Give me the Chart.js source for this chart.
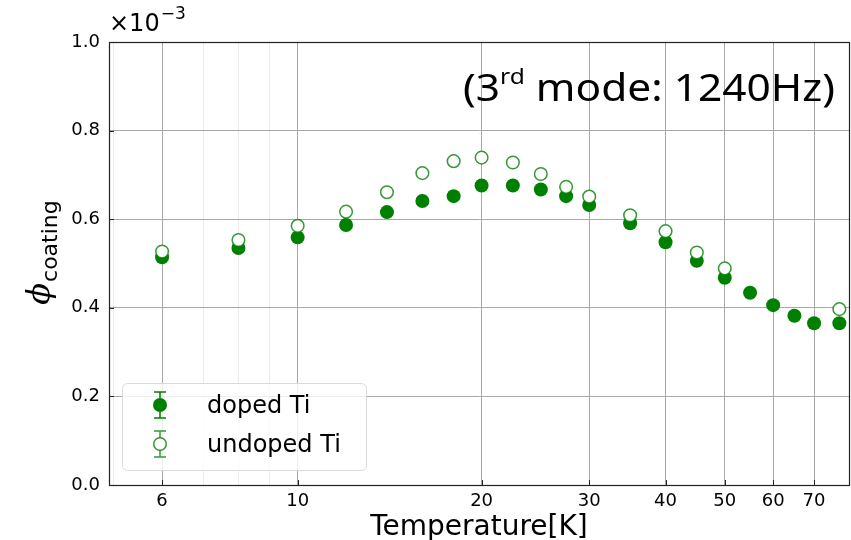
<!DOCTYPE html>
<html>
<head>
<meta charset="utf-8">
<script src="https://cdn.jsdelivr.net/npm/chart.js@4"></script>
<style>
  html, body { margin: 0; padding: 0; background: #fff; }
  #wrap { width: 851px; height: 540px; }
</style>
</head>
<body>
<div id="wrap"><canvas id="chart" width="851" height="540"></canvas></div>
<script>
// temperatures [K] and loss angle (x1e-3)
const dopedTemps = [6, 8, 10, 12, 14, 16, 18, 20, 22.5, 25, 27.5, 30, 35, 40, 45, 50, 55, 60, 65, 70, 77];
const dopedPhi = [0.514, 0.535, 0.559, 0.587, 0.616, 0.641, 0.652, 0.676, 0.676, 0.667, 0.652, 0.632, 0.591, 0.548, 0.506, 0.468, 0.434, 0.406, 0.382, 0.365, 0.365];

const undopedTemps = [6, 8, 10, 12, 14, 16, 18, 20, 22.5, 25, 27.5, 30, 35, 40, 45, 50, 77];
const undopedPhi = [0.527, 0.553, 0.585, 0.617, 0.661, 0.704, 0.731, 0.739, 0.728, 0.702, 0.673, 0.651, 0.609, 0.573, 0.525, 0.489, 0.397];

const xMajorTicks = [6, 10, 20, 30, 40, 50, 60, 70];
const xMinorTicks = [5, 7, 8, 9];
const yTicks = [0, 0.2, 0.4, 0.6, 0.8, 1.0];

const green = "#008000";
const openGreen = "rgba(0,128,0,0.8)";
const tickFont = { family: "DejaVu Sans", size: 18 };

const toPoints = (xs, ys) => xs.map((x, i) => ({ x: x, y: ys[i] }));

// texts, legend, frame and inward ticks
const extras = {
	id: "extras",
	afterDraw(chart) {
		const ctx = chart.ctx;
		const area = chart.chartArea;
		const xs = chart.scales.x;
		const ys = chart.scales.y;
		ctx.save();

		// inward ticks
		ctx.strokeStyle = "#222";
		ctx.lineWidth = 1;
		yTicks.forEach((v) => {
			const y = Math.round(ys.getPixelForValue(v)) + 0.5;
			ctx.beginPath();
			ctx.moveTo(area.left, y);
			ctx.lineTo(area.left + 5, y);
			ctx.stroke();
		});
		xMajorTicks.forEach((v) => {
			const x = Math.round(xs.getPixelForValue(v)) + 0.5;
			ctx.beginPath();
			ctx.moveTo(x, area.bottom);
			ctx.lineTo(x, area.bottom - 5);
			ctx.stroke();
		});

		// frame
		ctx.strokeStyle = "#222";
		ctx.lineWidth = 1.2;
		ctx.strokeRect(area.left + 0.5, area.top + 0.5, area.right - area.left - 1, area.bottom - area.top);

		// x10^-3
		ctx.fillStyle = "#000";
		ctx.textBaseline = "alphabetic";
		ctx.textAlign = "left";
		ctx.font = "24px 'DejaVu Sans'";
		ctx.fillText("\u00d710", 109, 31);
		const w10 = ctx.measureText("\u00d710").width;
		ctx.font = "17px 'DejaVu Sans'";
		ctx.fillText("\u22123", 109 + w10 + 1, 19);

		// annotation (3rd mode: 1240Hz), squeezed to the reference width
		ctx.save();
		const big = "38px 'Noto Sans'";
		const sup = "22px 'Noto Sans'";
		ctx.font = big;
		const wA = ctx.measureText("(3").width;
		const wC = ctx.measureText(" mode: 1240Hz)").width;
		ctx.font = sup;
		const wB = ctx.measureText("rd").width;
		const total = wA + wB + wC;
		const sx = 372 / total;
		ctx.translate(463, 101);
		ctx.scale(sx, 1);
		ctx.font = big;
		ctx.fillText("(3", 0, 0);
		ctx.font = sup;
		ctx.fillText("rd", wA, -17);
		ctx.font = big;
		ctx.fillText(" mode: 1240Hz)", wA + wB, 0);
		ctx.restore();

		// x axis title
		ctx.font = "28px 'DejaVu Sans'";
		ctx.textAlign = "center";
		ctx.fillText("Temperature[K]", 479, 535);

		// y axis title: phi_coating
		ctx.save();
		ctx.translate(49, 253);
		ctx.rotate(-Math.PI / 2);
		ctx.textAlign = "left";
		ctx.font = "italic 32px 'DejaVu Serif'";
		const wPhi = ctx.measureText("\u03d5").width;
		ctx.font = "22px 'DejaVu Sans'";
		const wSub = ctx.measureText("coating").width;
		const start = -(wPhi + wSub) / 2;
		ctx.font = "italic 32px 'DejaVu Serif'";
		ctx.fillText("\u03d5", start, 0);
		ctx.font = "22px 'DejaVu Sans'";
		ctx.fillText("coating", start + wPhi + 1, 8);
		ctx.restore();

		// legend
		const lx = 122.5, ly = 383.5, lw = 244, lh = 87;
		ctx.beginPath();
		ctx.roundRect(lx, ly, lw, lh, 5);
		ctx.fillStyle = "rgba(255,255,255,0.8)";
		ctx.fill();
		ctx.strokeStyle = "#d9d9d9";
		ctx.lineWidth = 1;
		ctx.stroke();

		const drawEntry = (cy, filled, label) => {
			const cx = 160;
			ctx.strokeStyle = filled ? green : openGreen;
			ctx.lineWidth = 1.5;
			ctx.beginPath();
			ctx.moveTo(cx, cy - 13);
			ctx.lineTo(cx, cy + 13);
			ctx.moveTo(cx - 6, cy - 13);
			ctx.lineTo(cx + 6, cy - 13);
			ctx.moveTo(cx - 6, cy + 13);
			ctx.lineTo(cx + 6, cy + 13);
			ctx.stroke();
			ctx.beginPath();
			ctx.arc(cx, cy, filled ? 7 : 6.3, 0, Math.PI * 2);
			if (filled) {
				ctx.fillStyle = green;
				ctx.fill();
			} else {
				ctx.fillStyle = "#fff";
				ctx.fill();
				ctx.stroke();
			}
			ctx.fillStyle = "#000";
			ctx.font = "24px 'DejaVu Sans'";
			ctx.textAlign = "left";
			ctx.fillText(label, 207, cy + 8);
		};
		drawEntry(405, true, "doped Ti");
		drawEntry(444, false, "undoped Ti");

		ctx.restore();
	},
};

new Chart(document.getElementById("chart"), {
	type: "scatter",
	data: {
		datasets: [
			{
				label: "undoped Ti",
				data: toPoints(undopedTemps, undopedPhi),
				pointRadius: 6.3,
				pointBorderWidth: 1.5,
				pointBackgroundColor: "#fff",
				pointBorderColor: openGreen,
				order: 0,
				clip: false,
			},
			{
				label: "doped Ti",
				data: toPoints(dopedTemps, dopedPhi),
				pointRadius: 7,
				pointBorderWidth: 0,
				pointBackgroundColor: green,
				pointBorderColor: green,
				order: 1,
				clip: false,
			},
		],
	},
	options: {
		responsive: false,
		animation: false,
		layout: { autoPadding: false, padding: { top: 42, right: 1, left: 0, bottom: 0 } },
		plugins: {
			legend: { display: false },
			tooltip: { enabled: false },
		},
		scales: {
			x: {
				type: "logarithmic",
				min: 4.912,
				max: 80.15,
				bounds: "data",
				afterBuildTicks: (scale) => {
					scale.ticks = xMinorTicks.concat(xMajorTicks).sort((a, b) => a - b).map((v) => ({ value: v }));
				},
				afterFit: (scale) => {
					scale.height = 55;
					scale.paddingLeft = 0;
					scale.paddingRight = 0;
				},
				grid: {
					drawTicks: false,
					color: (c) => (c.tick && xMajorTicks.includes(c.tick.value) ? "#a8a8a8" : "#ececec"),
					lineWidth: 1,
				},
				border: { display: false },
				ticks: {
					autoSkip: false,
					maxRotation: 0,
					padding: 6,
					color: "#000",
					font: tickFont,
					callback: (v) => (xMajorTicks.includes(v) ? String(v) : ""),
				},
			},
			y: {
				min: 0,
				max: 1.0,
				afterBuildTicks: (scale) => {
					scale.ticks = yTicks.map((v) => ({ value: v }));
				},
				afterFit: (scale) => {
					scale.width = 109;
					scale.paddingTop = 0;
					scale.paddingBottom = 0;
				},
				grid: {
					drawTicks: false,
					color: (c) => (c.tick && (c.tick.value === 0 || c.tick.value === 1) ? "rgba(0,0,0,0)" : "#a8a8a8"),
					lineWidth: 1,
				},
				border: { display: false },
				ticks: {
					padding: 9,
					color: "#000",
					font: tickFont,
					callback: (v) => v.toFixed(1),
				},
			},
		},
	},
	plugins: [extras],
});
</script>
</body>
</html>
